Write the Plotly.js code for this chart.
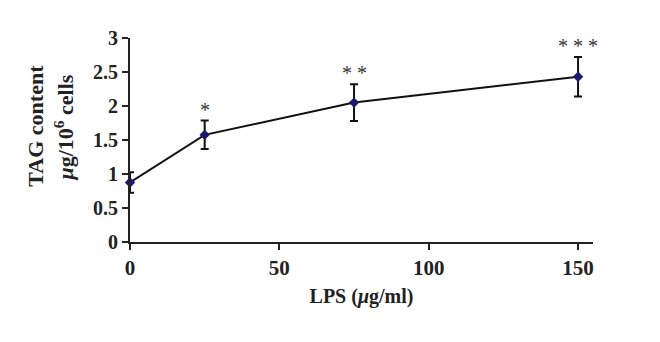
<!DOCTYPE html>
<html>
<head>
<meta charset="utf-8">
<script src="https://cdn.plot.ly/plotly-3.0.1.min.js"></script>
<style>html,body{margin:0;padding:0;background:#fff;}#chart{width:660px;height:342px;}</style>
</head>
<body>
<div id="chart"></div>
<script>
const lps = [0, 25, 75, 150];
const tag = [0.875, 1.576, 2.05, 2.43];
const tagErr = [0.15, 0.21, 0.27, 0.29];
const stars = ["", "*", "* *", "* * *"];
const xTicks = [0, 50, 100, 150];
const yTicks = [0, 0.5, 1, 1.5, 2, 2.5, 3];
const yTickText = ["0", "0.5", "1", "1.5", "2", "2.5", "3"];

const font = "'Liberation Serif', 'DejaVu Serif', serif";

const trace = {
  x: lps, y: tag, type: 'scatter', mode: 'lines+markers',
  line: {color: '#111', width: 2},
  marker: {symbol: 'diamond', size: 8, color: '#1c1a6e', line: {color: '#1c1a6e', width: 0}},
  error_y: {type: 'data', array: tagErr, visible: true, color: '#111', thickness: 2, width: 4},
  cliponaxis: false, hoverinfo: 'none'
};

const annotations = lps.map((x, i) => ({
  x: x, y: tag[i] + tagErr[i], xref: 'x', yref: 'y',
  text: stars[i], showarrow: false, yanchor: 'bottom', yshift: -2,
  font: {family: font, size: 20, color: '#333'}
})).filter(a => a.text);

annotations.push({
  xref: 'paper', yref: 'paper', x: -0.203, y: 0.57, xanchor: 'center', yanchor: 'middle',
  text: '<b>TAG content</b>', textangle: -90, showarrow: false,
  font: {family: font, size: 22, color: '#222'}
});
annotations.push({
  xref: 'paper', yref: 'paper', x: -0.143, y: 0.56, xanchor: 'center', yanchor: 'middle',
  text: '<b><i>μ</i>g/10<sup>6</sup> cells</b>', textangle: -90, showarrow: false,
  font: {family: font, size: 22, color: '#222'}
});

const layout = {
  width: 660, height: 342,
  margin: {l: 130, r: 67, t: 38, b: 100},
  paper_bgcolor: '#fff', plot_bgcolor: '#fff',
  showlegend: false,
  font: {family: font, color: '#222'},
  xaxis: {
    range: [0, 155], tickvals: xTicks, ticktext: xTicks.map(String),
    showgrid: false, zeroline: false, showline: true, linecolor: '#222', linewidth: 2,
    ticks: 'outside', ticklen: 6, tickwidth: 2, tickcolor: '#222',
    tickfont: {family: font, size: 21, color: '#222', weight: 'bold'},
    title: {text: '<b>LPS (<i>μ</i>g/ml)</b>', font: {family: font, size: 20, color: '#222'}, standoff: 10}
  },
  yaxis: {
    range: [0, 3], tickvals: yTicks, ticktext: yTickText,
    showgrid: false, zeroline: false, showline: true, linecolor: '#222', linewidth: 2,
    ticks: 'outside', ticklen: 6, tickwidth: 2, tickcolor: '#222',
    tickfont: {family: font, size: 20, color: '#222', weight: 'bold'}
  },
  annotations: annotations
};

Plotly.newPlot('chart', [trace], layout, {displayModeBar: false, staticPlot: true});
</script>
</body>
</html>
